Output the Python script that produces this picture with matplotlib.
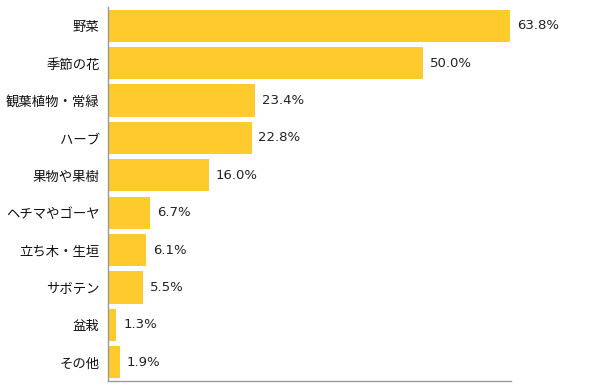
import matplotlib
matplotlib.use('Agg')
import matplotlib.pyplot as plt

plt.rcParams['font.family'] = ['Noto Sans CJK JP', 'DejaVu Sans']

# data
categories = ['野菜', '季節の花', '観葉植物・常緑', 'ハーブ', '果物や果樹',
              'ヘチマやゴーヤ', '立ち木・生垣', 'サボテン', '盆栽', 'その他']
values = [63.8, 50.0, 23.4, 22.8, 16.0, 6.7, 6.1, 5.5, 1.3, 1.9]

fig = plt.figure(figsize=(6.0, 3.91), dpi=100)
ax = fig.add_axes([108/600, 1 - 381/391, (511-108)/600, (381-7)/391])

ypos = list(range(len(categories)))
ax.barh(ypos, values, height=0.86, color='#FFCA2C', zorder=2)

for y, v in zip(ypos, values):
    ax.text(v + 1.1, y, f'{v:.1f}%', va='center', ha='left',
            fontsize=9.5, color='#222222', family='DejaVu Sans')

ax.set_yticks(ypos)
ax.set_yticklabels(categories, fontsize=9.6, color='#111111')
ax.set_ylim(len(categories) - 0.5, -0.5)
ax.set_xlim(0, 64)
ax.set_xticks([])
ax.tick_params(axis='y', length=0, pad=6)

for s in ['top', 'right']:
    ax.spines[s].set_visible(False)
for s in ['left', 'bottom']:
    ax.spines[s].set_color('#999999')
    ax.spines[s].set_linewidth(1)

fig.savefig('out.png', dpi=100)
